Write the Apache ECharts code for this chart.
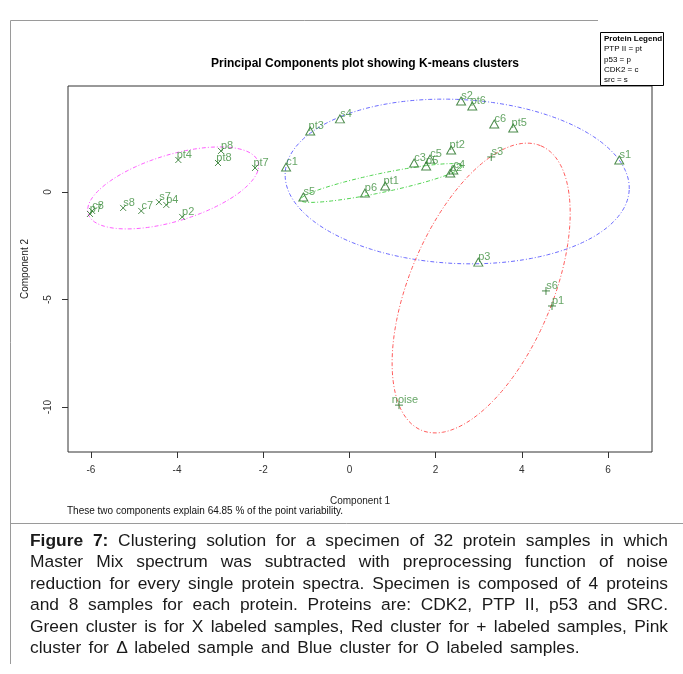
<!DOCTYPE html>
<html>
<head>
<meta charset="utf-8">
<script src="https://cdn.jsdelivr.net/npm/echarts@6/dist/echarts.min.js"></script>
<style>
  html, body { margin: 0; padding: 0; background: #fff; }
  #wrap { position: relative; width: 683px; height: 674px; overflow: hidden; }
  #chart { position: absolute; left: 0; top: 0; width: 683px; height: 674px; }
  #caption { position: absolute; left: 30px; top: 530px; width: 638px;
    font-family: "Liberation Sans", Arial, sans-serif; font-size: 17.4px; line-height: 21.4px; color: #1a1a1a; }
  #caption div { text-align: justify; text-align-last: justify; white-space: nowrap; }
  #caption div.last { text-align-last: left; word-spacing: 2.5px; }
</style>
</head>
<body>
<div id="wrap">
  <div id="chart"></div>
  <div id="caption">
    <div><b>Figure 7:</b> Clustering solution for a specimen of 32 protein samples in which</div>
    <div>Master Mix spectrum was subtracted with preprocessing function of noise</div>
    <div>reduction for every single protein spectra. Specimen is composed of 4 proteins</div>
    <div>and 8 samples for each protein. Proteins are: CDK2, PTP II, p53 and SRC.</div>
    <div>Green cluster is for X labeled samples, Red cluster for + labeled samples, Pink</div>
    <div class="last">cluster for Δ labeled sample and Blue cluster for O labeled samples.</div>
  </div>
</div>
<script>
// Samples per cluster: names and their two principal component scores
const c1Names = ['s5', 'p6', 'pt1', 'c3', 'c5', 'p5', 'c4', 'c2'];
const c1X = [-1.07, 0.36, 0.83, 1.50, 1.87, 1.78, 2.41, 2.34];
const c1Y = [-0.23, -0.05, 0.28, 1.35, 1.53, 1.21, 1.02, 0.88];

const c2Names = ['s2', 'pt6', 's4', 'pt3', 'c6', 'pt5', 's1', 'c1', 'pt2', 'p3'];
const c2X = [2.59, 2.85, -0.22, -0.91, 3.36, 3.80, 6.26, -1.47, 2.36, 2.99];
const c2Y = [4.23, 4.00, 3.40, 2.84, 3.16, 2.98, 1.49, 1.16, 1.95, -3.26];

const c3Names = ['s3', 's6', 'p1', 'noise'];
const c3X = [3.29, 4.56, 4.70, 1.15];
const c3Y = [1.63, -4.60, -5.30, -9.91];

const c4Names = ['pt4', 'p8', 'pt8', 'pt7', 's7', 'p4', 'c7', 's8', 'c8', 'p7', 'p2'];
const c4X = [-3.97, -2.98, -3.05, -2.19, -4.42, -4.25, -4.83, -5.25, -5.97, -6.02, -3.88];
const c4Y = [1.49, 1.91, 1.35, 1.12, -0.47, -0.60, -0.88, -0.74, -0.88, -1.02, -1.16];

// Cluster hull ellipses: centre and two conjugate semi-diameters (data units)
const ellCenterX = [0.735, 2.50, 3.056, -4.09];
const ellCenterY = [0.419, 0.49, -4.465, 0.19];
const ellUX = [1.879, 3.991, 1.387, 1.972];
const ellUY = [0.791, -0.395, 6.614, 1.209];
const ellVX = [0.045, -0.093, 1.531, 0.225];
const ellVY = [-0.432, -3.809, -1.288, -1.474];

// Cluster number labels
const clusterIds = ['1', '2', '3', '4'];
const clusterLabelX = [2.50, 2.15, 4.15, -2.74];
const clusterLabelY = [1.40, 4.56, 2.47, 2.09];

// Axis ticks
const xTicks = [-6, -4, -2, 0, 2, 4, 6];
const yTicks = [-10, -5, 0];

const legendLines = ['PTP II = pt', 'p53 = p', 'CDK2 = c', 'src = s'];

const FONT = '"Liberation Sans", Arial, sans-serif';
const clusterColors = ['#33cc33', '#0000ff', '#ff0000', '#ff00ff'];
const ellipseColors = ['#4fd34f', '#6a6aff', '#ff5a5a', '#ff5cff'];
const pointColor = '#1f6e1f';
const labelColor = '#3f8f3f';

const SYM_X = 'path://M0,0L10,10M10,0L0,10';
const SYM_PLUS = 'path://M5,0L5,10M0,5L10,5';
const SYM_TRI = 'path://M5,0L10,9L0,9Z';

function pts(xs, ys, names) {
  return xs.map((x, i) => ({ value: [x, ys[i]], name: names[i] }));
}

function ellipse(k) {
  const out = [];
  const n = 240;
  for (let i = 0; i <= n; i++) {
    const t = 2 * Math.PI * i / n;
    out.push([
      ellCenterX[k] + ellUX[k] * Math.cos(t) + ellVX[k] * Math.sin(t),
      ellCenterY[k] + ellUY[k] * Math.cos(t) + ellVY[k] * Math.sin(t)
    ]);
  }
  return out;
}

function pointSeries(xs, ys, names, symbol, size) {
  return {
    type: 'scatter',
    data: pts(xs, ys, names),
    symbol: symbol,
    symbolSize: size,
    itemStyle: { color: 'none', borderColor: pointColor, borderWidth: 1 },
    label: {
      show: true, position: 'inside', offset: [6, -5],
      formatter: p => p.name, color: labelColor, fontSize: 11, fontFamily: FONT
    },
    emphasis: { disabled: true },
    z: 5
  };
}

const series = [];
for (let k = 0; k < 4; k++) {
  series.push({
    type: 'line', data: ellipse(k), showSymbol: false, symbol: 'none',
    lineStyle: { color: ellipseColors[k], width: 1, type: [4, 2, 1, 2] },
    silent: true, z: 2
  });
}
series.push(pointSeries(c1X, c1Y, c1Names, SYM_TRI, [9, 8]));
series.push(pointSeries(c2X, c2Y, c2Names, SYM_TRI, [9, 8]));
series.push(pointSeries(c3X, c3Y, c3Names, SYM_PLUS, 8));
series.push(pointSeries(c4X, c4Y, c4Names, SYM_X, 6));
series.push({
  type: 'scatter', symbol: 'none', silent: true, z: 6,
  data: clusterIds.map((id, i) => ({
    value: [clusterLabelX[i], clusterLabelY[i]], name: id,
    label: { color: clusterColors[i] }
  })),
  label: { show: true, position: 'inside', formatter: p => p.name,
    fontSize: 12, fontWeight: 'bold', fontFamily: FONT }
});

const chart = echarts.init(document.getElementById('chart'), null, { renderer: 'canvas' });
chart.setOption({
  animation: false,
  backgroundColor: 'transparent',
  title: {
    text: 'Principal Components plot showing K-means clusters',
    left: 360, top: 53, textAlign: 'center',
    textStyle: { fontFamily: FONT, fontSize: 12, fontWeight: 'bold', color: '#000' }
  },
  grid: { left: 68, right: 31, top: 86, bottom: 222, show: true,
    borderColor: '#333', borderWidth: 1, backgroundColor: 'transparent' },
  xAxis: {
    type: 'value', min: -6.53, max: 7.02,
    name: 'Component 1', nameLocation: 'middle', nameGap: 44,
    nameTextStyle: { fontFamily: FONT, fontSize: 10, color: '#222' },
    axisLine: { show: false, onZero: false },
    splitLine: { show: false },
    axisTick: { show: true, length: 6, lineStyle: { color: '#333' }, customValues: xTicks },
    axisLabel: { fontFamily: FONT, fontSize: 10, color: '#333', margin: 13, customValues: xTicks,
      showMinLabel: true, showMaxLabel: true }
  },
  yAxis: {
    type: 'value', min: -12.09, max: 4.93,
    name: 'Component 2', nameLocation: 'middle', nameGap: 38, nameRotate: 90,
    nameTextStyle: { fontFamily: FONT, fontSize: 10, color: '#222' },
    axisLine: { show: false, onZero: false },
    splitLine: { show: false },
    axisTick: { show: true, length: 6, lineStyle: { color: '#333' }, customValues: yTicks },
    axisLabel: { fontFamily: FONT, fontSize: 10, color: '#333', margin: 15, rotate: 90,
      customValues: yTicks }
  },
  graphic: [
    { type: 'line', shape: { x1: 10.5, y1: 20.5, x2: 598, y2: 20.5 }, style: { stroke: '#9a9a9a', lineWidth: 1 }, silent: true },
    { type: 'line', shape: { x1: 10.5, y1: 20.5, x2: 10.5, y2: 664 }, style: { stroke: '#9a9a9a', lineWidth: 1 }, silent: true },
    { type: 'line', shape: { x1: 10.5, y1: 523.5, x2: 683, y2: 523.5 }, style: { stroke: '#9a9a9a', lineWidth: 1 }, silent: true },
    { type: 'rect', shape: { x: 600.5, y: 32.5, width: 63, height: 53 },
      style: { fill: '#fff', stroke: '#000', lineWidth: 1 }, silent: true },
    { type: 'text', left: 604, top: 35,
      style: { text: 'Protein Legend', font: 'bold 8px ' + FONT, fill: '#000' }, silent: true },
    ...legendLines.map((t, i) => ({
      type: 'text', left: 604, top: 45 + i * 10.3,
      style: { text: t, font: '8px ' + FONT, fill: '#000' }, silent: true
    })),
    { type: 'text', left: 67, top: 506,
      style: { text: 'These two components explain 64.85 % of the point variability.',
        font: '10px ' + FONT, fill: '#111' }, silent: true }
  ],
  series: series
});
</script>
</body>
</html>
